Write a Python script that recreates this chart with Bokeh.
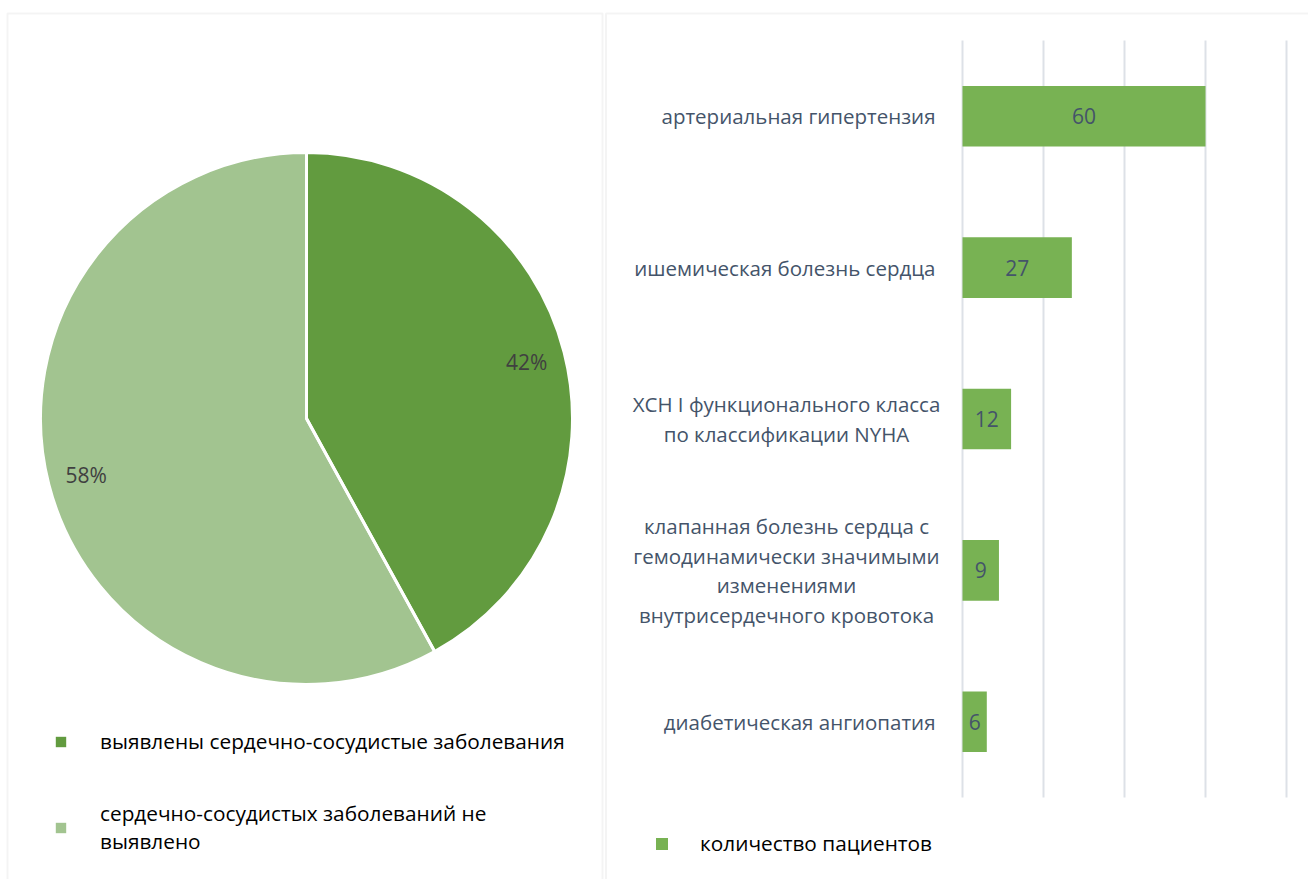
import math
from bokeh.plotting import figure
from bokeh.layouts import row
from bokeh.models import (ColumnDataSource, Legend, LegendItem, Range1d, BoxAnnotation,
                          CDSView, BooleanFilter)
from bokeh.core.properties import value
from bokeh.embed import file_html
from bokeh.resources import INLINE

# ---------------- data ----------------
pie_labels = ["выявлены сердечно-сосудистые заболевания",
              "сердечно-сосудистых заболеваний не\nвыявлено"]
pie_values = [42, 58]
pie_colors = ["#629B3F", "#A2C490"]

bar_categories = ["артериальная гипертензия",
                  "ишемическая болезнь сердца",
                  "ХСН I функционального класса\nпо классификации NYHA",
                  "клапанная болезнь сердца с\nгемодинамически значимыми\nизменениями\nвнутрисердечного кровотока",
                  "диабетическая ангиопатия"]
bar_values = [60, 27, 12, 9, 6]
bar_series = "количество пациентов"
x_ticks = [0, 20, 40, 60, 80]

FONT = "Open Sans"
TXT = "20.5px"
LEG = "20.8px"
NUM = "21px"

# ---------------- pie ----------------
W1, H1 = 604, 879
CX, CY, R = 306, 418, 266          # pie centre / radius in page pixels
total = sum(pie_values)
starts, ends, lx, ly, ltxt = [], [], [], [], []
acc = 0.0
for v in pie_values:
    a_end = math.pi / 2 - 2 * math.pi * acc / total
    a_start = math.pi / 2 - 2 * math.pi * (acc + v) / total
    starts.append(a_start)
    ends.append(a_end)
    mid = (a_start + a_end) / 2
    lx.append(0.855 * R * math.cos(mid))
    ly.append(0.855 * R * math.sin(mid))
    ltxt.append(f"{round(100 * v / total)}%")
    acc += v

psrc = ColumnDataSource(dict(start=starts, end=ends, color=pie_colors,
                             label=pie_labels, x=[0] * 2, y=[0] * 2))

p1 = figure(width=W1, height=H1, output_backend="svg", toolbar_location=None,
            x_range=Range1d(-CX, W1 - CX), y_range=Range1d(-(H1 - CY), CY),
            min_border=0, min_border_left=0, min_border_right=0,
            min_border_top=0, min_border_bottom=0)
p1.axis.visible = False
p1.grid.visible = False
p1.outline_line_color = None

p1.add_layout(BoxAnnotation(left=7 - CX, right=602 - CX, top=CY - 13, bottom=-(H1 - CY) - 50,
                            fill_color=None, line_color="#D9D9D9", line_width=2))

wr = p1.wedge(x="x", y="y", radius=R, start_angle="start", end_angle="end",
              fill_color="color", line_color=None, source=psrc)
p1.wedge(x="x", y="y", radius=R, start_angle="start", end_angle="end",
         fill_color=None, line_color="white", line_width=3, source=psrc)
p1.text(x=lx, y=ly, text=ltxt, text_align="center", text_baseline="middle",
        text_font=value(FONT), text_font_size=NUM, text_color="#404040")

leg1 = Legend(items=[LegendItem(label=pie_labels[i], renderers=[wr], index=i) for i in range(2)],
              location=(54, 24), orientation="vertical",
              glyph_width=13, glyph_height=13, label_standoff=33, spacing=44,
              padding=0, margin=0, border_line_color=None, background_fill_alpha=0,
              label_text_font=FONT, label_text_font_size=LEG, label_text_color="#000000")
p1.add_layout(leg1, "center")

# ---------------- bars ----------------
W2, H2 = 704, 879
FIG2_LEFT = W1
X0, PXU = 962, 4.05                 # page x of value 0, pixels per unit
YTOP, CATPX = 40, 151.4             # page y of plot top, pixels per category
n = len(bar_categories)
ypos = [n - 1 - i for i in range(n)]

def yv(page_y):
    return (n - 0.5) - (page_y - YTOP) / CATPX

def xv(page_x):
    return (page_x - X0) / PXU

bsrc = ColumnDataSource(dict(cat=bar_categories, y=ypos, val=bar_values,
                             half=[v / 2 for v in bar_values],
                             txt=[str(v) for v in bar_values]))
multi = [("\n" in c) for c in bar_categories]

p2 = figure(width=W2, height=H2, output_backend="svg", toolbar_location=None,
            x_range=Range1d(xv(FIG2_LEFT), xv(FIG2_LEFT + W2)),
            y_range=Range1d(yv(H2), yv(0)),
            min_border=0, min_border_left=0, min_border_right=0,
            min_border_top=0, min_border_bottom=0)
p2.axis.visible = False
p2.grid.visible = False
p2.outline_line_color = None

p2.add_layout(BoxAnnotation(left=xv(605.5), right=xv(FIG2_LEFT + W2) + 10, top=yv(13),
                            bottom=yv(H2) - 1, fill_color=None, line_color="#D9D9D9", line_width=2))

p2.segment(x0=x_ticks, x1=x_ticks, y0=[-0.5] * len(x_ticks), y1=[n - 0.5] * len(x_ticks),
           line_color="#DDE1E7", line_width=2)

br = p2.hbar(y="y", right="val", height=0.4, fill_color="#78B253", line_color=None, source=bsrc)
p2.text(x="half", y="y", text="txt", source=bsrc, text_align="center", text_baseline="middle",
        text_font=value(FONT), text_font_size=NUM, text_color="#44546A")

# single-line category labels: right aligned next to the plot
p2.text(x=xv(935), y="y", text="cat", source=bsrc,
        view=CDSView(filter=BooleanFilter([not m for m in multi])),
        text_align="right", text_baseline="middle",
        text_font=value(FONT), text_font_size=TXT, text_color="#44546A")
# wrapped category labels: lines centred within their block
p2.text(x=xv(786), y="y", text="cat", source=bsrc,
        view=CDSView(filter=BooleanFilter(multi)),
        text_align="center", text_baseline="middle",
        text_font=value(FONT), text_font_size=TXT, text_color="#44546A", text_line_height=1.06)

leg2 = Legend(items=[LegendItem(label=bar_series, renderers=[br])],
              location=(50, 22), glyph_width=15, glyph_height=15, label_standoff=31,
              padding=0, margin=0, border_line_color=None, background_fill_alpha=0,
              label_text_font=FONT, label_text_font_size=LEG, label_text_color="#000000")
p2.add_layout(leg2, "center")

layout = row(p1, p2, spacing=0)
open("out.html", "w").write(file_html(layout, INLINE))
